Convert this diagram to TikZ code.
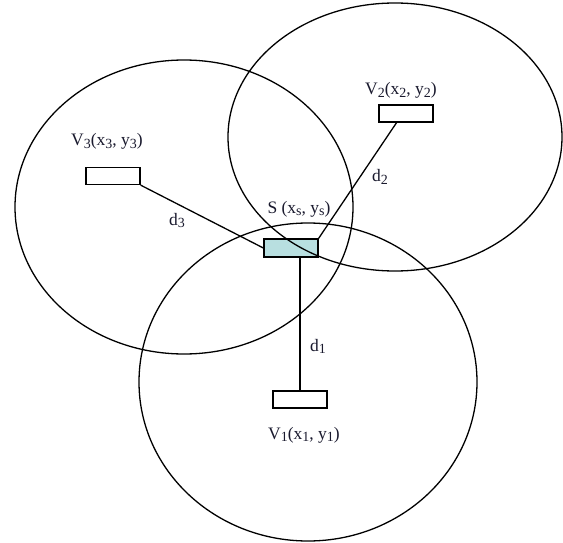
\documentclass[tikz,border=0pt]{standalone}
\usepackage{fontspec}
\setmainfont{Liberation Serif}
\definecolor{sfill}{HTML}{B8DFE0}
\definecolor{txt}{HTML}{1A1A2E}
\newcommand\subx[1]{\raisebox{-0.25ex}{\fontsize{14}{14}\selectfont #1}}
\begin{document}
\begin{tikzpicture}[x=1pt,y=-1pt,
  ring/.style={draw=black,line width=1.3pt},
  conn/.style={draw=black,line width=1.3pt},
  unit/.style={draw=black,line width=1.3pt,fill=white,rectangle,minimum width=54pt,minimum height=17pt,inner sep=0pt},
  lbl/.style={anchor=base,text=txt,inner sep=0pt,font=\fontsize{17.5}{20}\selectfont}]
\useasboundingbox (0,0) rectangle (563,543);
\fill[white] (0,0) rectangle (563,543);
% units
\node[unit] (V3) at (113,176) {};
\node[unit] (V2) at (406,113.5) {};
\node[unit] (V1) at (300,399.5) {};
\node[unit,fill=sfill,minimum height=18pt] (S) at (291,248) {};
\coordinate (V2c) at (397,122);
% connectors
\draw[conn] (V3.south east) -- (S.west);
\draw[conn] (V2c) -- (S.north east);
\draw[conn] (V1.north) -- (V1.north |- S.south);
% circles of range (drawn over the boxes, as in the reference)
\draw[ring] (184,207) ellipse [x radius=169pt, y radius=147pt];
\draw[ring] (395,137) ellipse [x radius=167pt, y radius=134pt];
\draw[ring] (308,382) ellipse [x radius=169pt, y radius=159pt];
% labels
\node[lbl] (LS) at (299,213) {S (x\subx{s}, y\subx{s})};
\node[lbl] (L3) at (107,146) {V\subx{3}(x\subx{3}, y\subx{3})};
\node[lbl] (L2) at (401,95) {V\subx{2}(x\subx{2}, y\subx{2})};
\node[lbl] (L1) at (304,439) {V\subx{1}(x\subx{1}, y\subx{1})};
\node[lbl] (d1) at (318,351) {d\subx{1}};
\node[lbl] (d2) at (380,182) {d\subx{2}};
\node[lbl] (d3) at (177,225) {d\subx{3}};
\end{tikzpicture}
\end{document}
